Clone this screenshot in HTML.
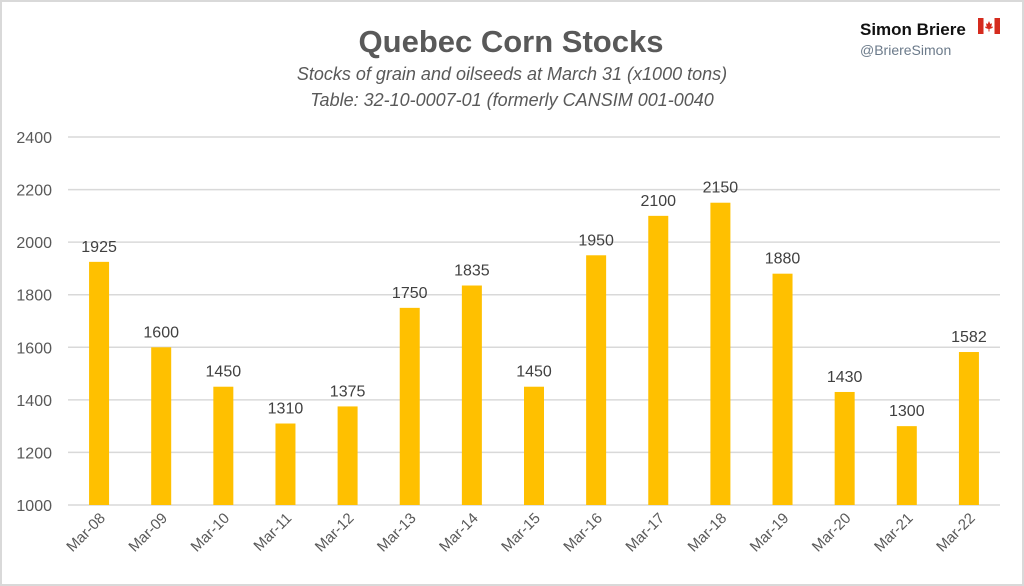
<!DOCTYPE html>
<html><head><meta charset="utf-8"><style>
body{margin:0;background:#fff;}
#wrap{position:relative;width:1024px;height:586px;box-sizing:border-box;border:2px solid #d9d9d9;background:#fff;font-family:"Liberation Sans",sans-serif;overflow:hidden}
</style></head><body>
<div id="wrap">
<svg id="chart" width="1020" height="582" style="position:absolute;left:0;top:0"></svg>
</div>
<script>
const categories=["Mar-08","Mar-09","Mar-10","Mar-11","Mar-12","Mar-13","Mar-14","Mar-15","Mar-16","Mar-17","Mar-18","Mar-19","Mar-20","Mar-21","Mar-22"];
const values=[1925,1600,1450,1310,1375,1750,1835,1450,1950,2100,2150,1880,1430,1300,1582];
const yTicks=[1000,1200,1400,1600,1800,2000,2200,2400];
const NS="http://www.w3.org/2000/svg";
const svg=document.getElementById('chart');
const ox=-2,oy=-2;
const x0=68+ox,x1=1000+ox,yTop=137+oy,yBot=505+oy;
const yMin=1000,yMax=2400;
function y(v){return yBot-(v-yMin)/(yMax-yMin)*(yBot-yTop);}
const band=(x1-x0)/categories.length;
function xc(i){return x0+band*(i+0.5);}
function mk(tag,attrs,text){const e=document.createElementNS(NS,tag);for(const k in attrs)e.setAttribute(k,attrs[k]);if(text!==undefined)e.textContent=text;svg.appendChild(e);return e;}
let t;
t=mk('text',{x:511+ox,y:52+oy,'text-anchor':'middle','font-size':31,'font-weight':'bold',fill:'#595959'},'Quebec Corn Stocks');


t=mk('text',{x:512+ox,y:80+oy,'text-anchor':'middle','font-size':18,'font-style':'italic',fill:'#595959'},'Stocks of grain and oilseeds at March 31 (x1000 tons)');


t=mk('text',{x:512+ox,y:106+oy,'text-anchor':'middle','font-size':18,'font-style':'italic',fill:'#595959'},'Table: 32-10-0007-01 (formerly CANSIM 001-0040');


t=mk('text',{x:860+ox,y:35+oy,'font-size':17,'font-weight':'bold',fill:'#111'},'Simon Briere');


t=mk('text',{x:860+ox,y:55+oy,'font-size':14,fill:'#6b7a8a'},'@BriereSimon');


const flag=mk('g',{transform:`translate(${978+ox},${18+oy})`});


flag.innerHTML='<rect x="0" y="0" width="22" height="16" rx="2" fill="#fff"/><rect x="0" y="0" width="5.5" height="16" fill="#d52b1e"/><rect x="16.5" y="0" width="5.5" height="16" fill="#d52b1e"/><path d="M11 3 L12.3 6 L14 5.3 L13.3 9 L15 8.5 L14.5 10 L11.5 11 L11.5 13.5 L10.5 13.5 L10.5 11 L7.5 10 L7 8.5 L8.7 9 L8 5.3 L9.7 6 Z" fill="#d52b1e"/>';
yTicks.forEach(v=>{
 const l=mk('line',{x1:x0,x2:x1,y1:y(v),y2:y(v),stroke:'#d9d9d9','stroke-width':1.5});
 
 
 const tx=mk('text',{x:x0-16,y:y(v)+6,'text-anchor':'end','font-size':16,fill:'#595959'},v);
 
 
});
const bw=20;
values.forEach((v,i)=>{
 const r=mk('rect',{x:xc(i)-bw/2,y:y(v),width:bw,height:yBot-y(v),fill:'#ffc000'});
 
 
 const lb=mk('text',{x:xc(i),y:y(v)-10,'text-anchor':'middle','font-size':16,fill:'#404040'},v);
 
 
 const cx=xc(i)+7,cy=yBot+14;
 const cl=mk('text',{x:cx,y:cy,'text-anchor':'end','font-size':15,fill:'#595959',transform:`rotate(-45 ${cx} ${cy})`},categories[i]);
 
 
});
</script>
</body></html>
